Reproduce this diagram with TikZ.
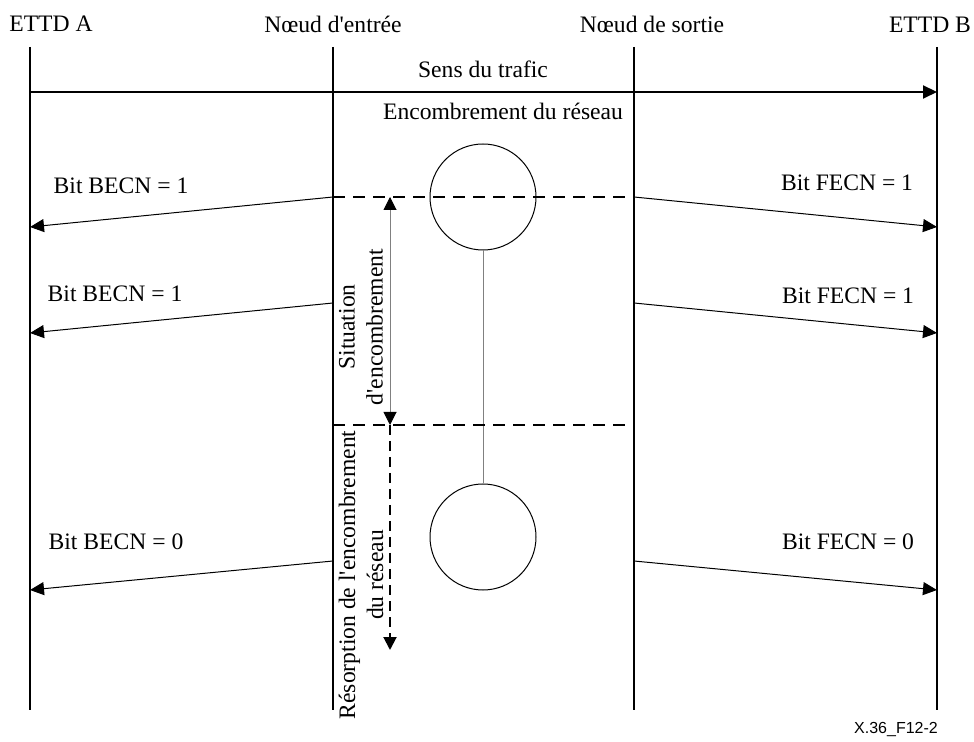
\documentclass[tikz,border=0pt]{standalone}
\usepackage{fontspec}
\setmainfont{Liberation Serif}
\newfontfamily\labelsans{Liberation Sans}
\usetikzlibrary{arrows.meta}
\newcommand\apos{\textquotesingle}
\begin{document}
\begin{tikzpicture}[x=0.5pt,y=-0.5pt,
  lifeline/.style={line width=1pt},
  traffic/.style={line width=1pt,-{Triangle[length=7pt,width=6.5pt]}},
  msg/.style={line width=0.5pt,-{Triangle[length=7pt,width=6.5pt]}},
  lbl/.style={font=\fontsize{11.8}{14}\selectfont, inner sep=0pt},
  dashline/.style={line width=1pt, dash pattern=on 6pt off 4pt},
  state/.style={circle, draw, line width=0.5pt, minimum size=53pt, inner sep=0pt},
  link/.style={draw=gray, line width=0.5pt},
  period/.style={draw=gray, line width=0.5pt,
     {Triangle[length=6.5pt,width=6.5pt,color=black]}-{Triangle[length=6.5pt,width=6.5pt,color=black]}},
  relief/.style={line width=1pt, dash pattern=on 5pt off 3pt, -{Triangle[length=6.5pt,width=6.5pt]}},
  figlabel/.style={font=\labelsans\fontsize{8}{9.6}\selectfont, inner sep=0pt}
]
\useasboundingbox (0,0) rectangle (974,742);

% lifelines
\coordinate (At) at (30,47);  \coordinate (Ab) at (30,710);
\coordinate (Et) at (333,47); \coordinate (Eb) at (333,710);
\coordinate (St) at (634,47); \coordinate (Sb) at (634,710);
\coordinate (Bt) at (937,47); \coordinate (Bb) at (937,710);
\draw[lifeline] (At) -- (Ab);
\draw[lifeline] (Et) -- (Eb);
\draw[lifeline] (St) -- (Sb);
\draw[lifeline] (Bt) -- (Bb);

% headings
\node[lbl] (hA) at (51,24) {ETTD A};
\node[lbl] (hE) at (333,24) {Nœud d\apos entrée};
\node[lbl] (hS) at (652,24) {Nœud de sortie};
\node[lbl] (hB) at (930,25) {ETTD B};

% traffic direction
\coordinate (tA) at (30,92);
\coordinate (tB) at (937,92);
\draw[traffic] (tA) -- (tB);
\node[lbl] (sens) at (483,69) {Sens du trafic};
\node[lbl] (enc) at (503,111) {Encombrement du réseau};

% congestion states
\node[state] (c1) at (483,197) {};
\node[state] (c2) at (483,537) {};
\draw[link] (c1.south) -- (c2.north);

% dashed limits
\coordinate (d1a) at (333,197); \coordinate (d1b) at (634,197);
\coordinate (d2a) at (333,425); \coordinate (d2b) at (634,425);
\draw[dashline] (d1a) -- (d1b);
\draw[dashline] (d2a) -- (d2b);

% period arrows
\coordinate (p1) at (390,197);
\coordinate (p2) at (390,425);
\coordinate (p3) at (390,650);
\draw[period] (p1) -- (p2);
\draw[relief] (p2) -- (p3);
\node[lbl, rotate=90, align=center] (sit) at (361,327) {Situation\\d\apos encombrement};
\node[lbl, rotate=90, align=center] (res) at (361,575) {Résorption de l\apos encombrement\\du réseau};

% BECN messages
\coordinate (e1) at (333,197); \coordinate (a1) at (30,227);
\coordinate (e2) at (333,303); \coordinate (a2) at (30,333);
\coordinate (e3) at (333,561); \coordinate (a3) at (30,590);
\draw[msg] (e1) -- (a1);
\draw[msg] (e2) -- (a2);
\draw[msg] (e3) -- (a3);
\node[lbl] (b1) at (121,186) {Bit BECN = 1};
\node[lbl] (b2) at (115,294) {Bit BECN = 1};
\node[lbl] (b3) at (116,542) {Bit BECN = 0};

% FECN messages
\coordinate (s1) at (634,197); \coordinate (z1) at (937,227);
\coordinate (s2) at (634,303); \coordinate (z2) at (937,333);
\coordinate (s3) at (634,561); \coordinate (z3) at (937,590);
\draw[msg] (s1) -- (z1);
\draw[msg] (s2) -- (z2);
\draw[msg] (s3) -- (z3);
\node[lbl] (f1) at (847,183) {Bit FECN = 1};
\node[lbl] (f2) at (848,296) {Bit FECN = 1};
\node[lbl] (f3) at (848,542) {Bit FECN = 0};

% figure number
\node[figlabel] (fig) at (896,730) {X.36\_F12-2};
\end{tikzpicture}
\end{document}
